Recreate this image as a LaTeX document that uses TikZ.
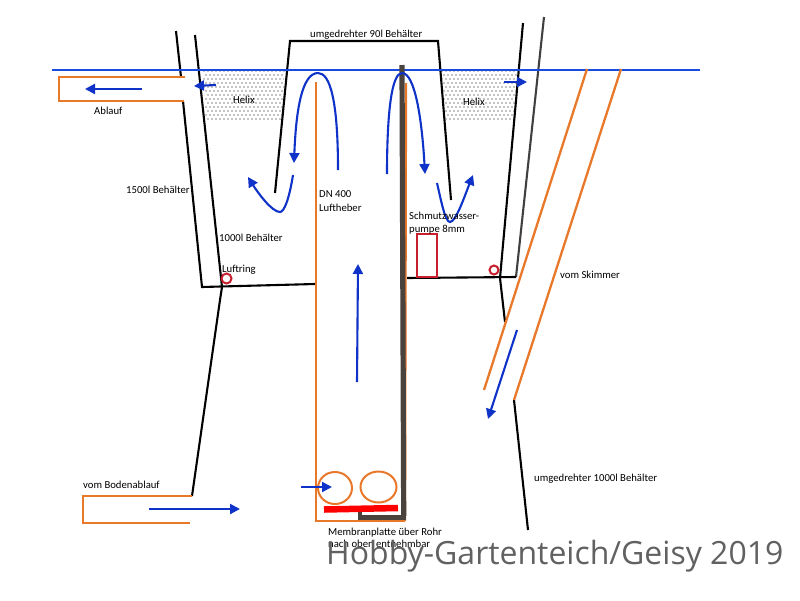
\documentclass[tikz,border=0pt]{standalone}
\usepackage{fontspec}
\setmainfont{Carlito}
\newfontfamily\markfont{Open Sans}
\usetikzlibrary{arrows.meta}
\definecolor{waterblue}{HTML}{1A4BE0}
\definecolor{flowB}{HTML}{0F32C8}
\definecolor{pipeO}{HTML}{E8792B}
\definecolor{wallD}{HTML}{4A423C}
\definecolor{wallG}{HTML}{404040}
\definecolor{ringR}{HTML}{C8202F}
\tikzset{
  wall/.style={draw=black,line width=2.1pt},
  pipe/.style={draw=pipeO,line width=2.3pt},
  flow/.style={draw=flowB,line width=2.1pt,-{Triangle[length=10pt,width=10pt]}},
  lbl/.style={anchor=base west,inner sep=0pt,font=\fontsize{10.7}{12}\selectfont},
  ring/.style={draw=ringR,line width=2pt},
}
\begin{document}
\begin{tikzpicture}[x=1pt,y=-1pt]
\useasboundingbox (0,0) rectangle (800,600);
\fill[white] (0,0) rectangle (800,600);
% Helix dots
\begin{scope}
\clip (203,70) -- (285,70) -- (282,122) -- (206,122) -- cycle;
\foreach \r in {0,...,13}{\foreach \c in {0,...,22}{
  \pgfmathsetmacro{\xx}{200+\c*4+mod(\r,2)*2}
  \pgfmathsetmacro{\yy}{71+\r*4}
  \fill[black] (\xx,\yy) circle (0.72pt);}}
\end{scope}
\begin{scope}
\clip (441,70) -- (519,70) -- (515,122) -- (446,122) -- cycle;
\foreach \r in {0,...,13}{\foreach \c in {0,...,22}{
  \pgfmathsetmacro{\xx}{438+\c*4+mod(\r,2)*2}
  \pgfmathsetmacro{\yy}{71+\r*4}
  \fill[black] (\xx,\yy) circle (0.68pt);}}
\end{scope}
% Tanks
\draw[wall] (176,31) -- (181,77);
\draw[wall] (183,101) -- (202,287) -- (315,284);
\draw[wall] (195,35) -- (222,287) -- (220,300) -- (192,496);
\draw[wall] (275,193) -- (290,41) -- (438,41) -- (451,200);
\draw[wall] (523,23) -- (500,278) -- (505,322);
\draw[wall] (514,400) -- (528,530);
\draw[draw=wallG,line width=2.1pt] (544,17) -- (516,277);
\draw[wall] (407,278) -- (516,277);
% Water line
\draw[draw=waterblue,line width=2pt] (52,69.5) -- (700,69.5);
% Pipes
\draw[pipe] (185,77) -- (59,77) -- (59,101) -- (184,101);
\draw[pipe] (192,496) -- (83,496) -- (83,523) -- (190,523);
\draw[pipe] (587,69) -- (484,390);
\draw[pipe] (621,69) -- (514,400);
\draw[pipe] (316,82) -- (316,521) -- (405,521);
\draw[pipe] (406,83) -- (405,521);
\draw[pipe,line width=2pt] (335,488) ellipse (17pt and 16pt);
\draw[pipe,line width=2pt] (378.5,487) ellipse (18pt and 15.5pt);
% Lift wall
\draw[draw=wallD,line width=5.2pt] (402,65) -- (403.7,516);
\draw[draw=wallD,line width=5pt] (358,517) -- (406,517);
\draw[draw=wallD,line width=4pt] (360,511) -- (360,517);
% Membrane, pump, rings
\draw[draw=red,line width=6.5pt] (324,509.5) -- (398,508);
\draw[draw=ringR,line width=2.2pt] (417,234) rectangle (437,277);
\draw[ring] (226.5,278.5) circle (5pt);
\draw[ring] (494,270) circle (4.5pt);
% Flow arrows
\draw[flow] (142,89) -- (85,89);
\draw[flow] (216,85) -- (194,86);
\draw[flow] (504,82) -- (527,82);
\draw[flow] (338,170) .. controls (338,100) and (330,73) .. (318,73) .. controls (302,73) and (296,110) .. (294,163);
\draw[flow] (293,175) .. controls (289,200) and (284,212) .. (280,212) .. controls (272,212) and (258,193) .. (248,177);
\draw[flow] (387,174) .. controls (387,110) and (392,73) .. (402,73) .. controls (415,73) and (422,120) .. (425,174);
\draw[flow] (437,183) .. controls (441,200) and (445,222) .. (450,222) .. controls (456,222) and (465,195) .. (473,175);
\draw[flow] (357,382) -- (358,264);
\draw[flow] (517,330) -- (488,419);
\draw[flow] (301,487) -- (332,487);
\draw[flow] (149,509) -- (240,509);
% Labels
\node[lbl] (t1) at (310,37) {umgedrehter 90l Behälter};
\node[lbl] (t2) at (233,103) {Helix};
\node[lbl] (t3) at (463,105) {Helix};
\node[lbl] (t4) at (94,114) {Ablauf};
\node[lbl] (t5) at (126,193) {1500l Behälter};
\node[lbl] (t6) at (219,241) {1000l Behälter};
\node[lbl] (t7) at (222,272) {Luftring};
\node[lbl] (t8) at (319,197) {DN 400};
\node[lbl] (t9) at (319,211) {Luftheber};
\node[lbl] (t10) at (409,219) {Schmutzwasser-};
\node[lbl] (t11) at (409,232) {pumpe 8mm};
\node[lbl] (t12) at (560,278) {vom Skimmer};
\node[lbl] (t13) at (534,481) {umgedrehter 1000l Behälter};
\node[lbl] (t14) at (83,488) {vom Bodenablauf};
\node[lbl] (t15) at (328,535) {Membranplatte über Rohr};
\node[lbl] (t16) at (328,547) {nach oben entnehmbar};
\node[anchor=base west,inner sep=0pt,text=black!62,font=\markfont\fontsize{32}{36}\selectfont] (wm) at (326,564) {Hobby-Gartenteich/Geisy 2019};
\end{tikzpicture}
\end{document}
